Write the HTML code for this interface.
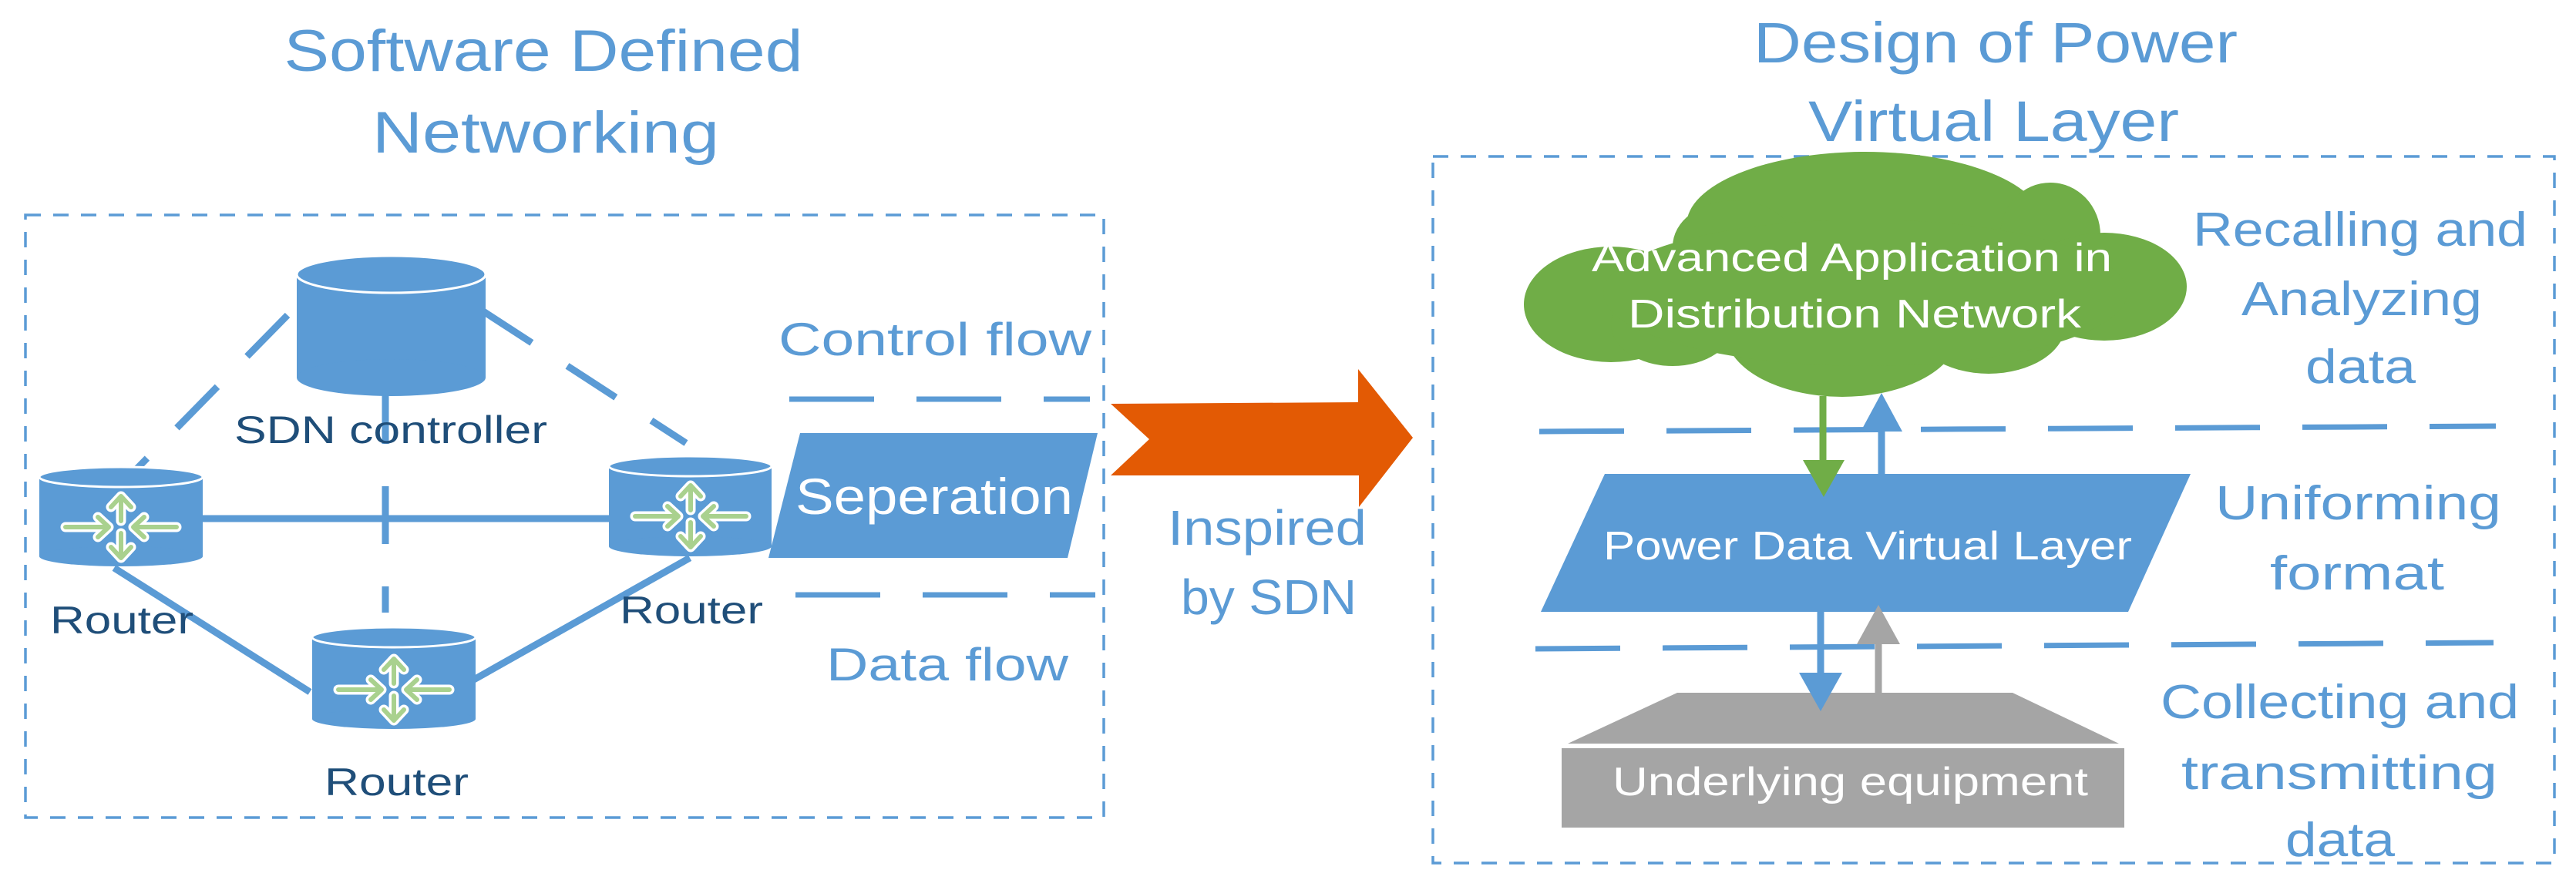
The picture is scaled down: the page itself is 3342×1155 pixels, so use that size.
<!DOCTYPE html>
<html><head><meta charset="utf-8"><style>
html,body{margin:0;padding:0;background:#fff;}
svg{display:block;}
text{font-family:"Liberation Sans",sans-serif;}
</style></head><body>
<svg width="3342" height="1155" viewBox="0 0 3342 1155" xmlns="http://www.w3.org/2000/svg">
<defs>
<g id="ico">
  <g fill="none" stroke="#fff" stroke-width="13" stroke-linecap="round" stroke-linejoin="round">
    <path d="M0,-8 V-38 M-13,-26 L0,-40 L13,-26"/>
    <path d="M0,8 V38 M-13,26 L0,40 L13,26"/>
    <path d="M-72,0 H-18 M-30,-13 L-16,0 L-30,13"/>
    <path d="M72,0 H18 M30,-13 L16,0 L30,13"/>
  </g>
  <g fill="none" stroke="#a9d18e" stroke-width="6" stroke-linecap="round" stroke-linejoin="round">
    <path d="M0,-8 V-38 M-13,-26 L0,-40 L13,-26"/>
    <path d="M0,8 V38 M-13,26 L0,40 L13,26"/>
    <path d="M-72,0 H-18 M-30,-13 L-16,0 L-30,13"/>
    <path d="M72,0 H18 M30,-13 L16,0 L30,13"/>
  </g>
</g>
</defs>

<!-- LEFT -->
<text x="705" y="92" font-size="76" fill="#5b9bd5" text-anchor="middle" textLength="673" lengthAdjust="spacingAndGlyphs">Software Defined</text>
<text x="708" y="198" font-size="76" fill="#5b9bd5" text-anchor="middle" textLength="450" lengthAdjust="spacingAndGlyphs">Networking</text>
<rect x="33" y="279" width="1399" height="782" fill="none" stroke="#5b9bd5" stroke-width="3.5" stroke-dasharray="20 16"/>

<!-- connectors -->
<g stroke="#5b9bd5" stroke-width="9" fill="none">
  <line x1="373" y1="409" x2="165" y2="621" stroke-dasharray="75 55"/>
  <line x1="627" y1="404" x2="890" y2="575" stroke-dasharray="75 55"/>
  <line x1="500" y1="501" x2="500" y2="795" stroke-dasharray="75 55"/>
  <line x1="263" y1="673" x2="800" y2="673"/>
  <line x1="148" y1="737" x2="402" y2="898"/>
  <line x1="895" y1="724" x2="613" y2="883"/>
</g>

<!-- SDN controller cylinder -->
<g fill="#5b9bd5">
  <rect x="385" y="356" width="245" height="134"/>
  <ellipse cx="507.5" cy="490" rx="122.5" ry="24"/>
  <ellipse cx="507.5" cy="356" rx="122.5" ry="24" stroke="#fff" stroke-width="3"/>
</g>
<!-- routers -->
<g fill="#5b9bd5">
  <rect x="51" y="619" width="212" height="103"/>
  <ellipse cx="157" cy="722" rx="106" ry="13"/>
  <ellipse cx="157" cy="619" rx="106" ry="13" stroke="#fff" stroke-width="3"/>
  <rect x="790" y="605" width="211" height="104"/>
  <ellipse cx="895.5" cy="709" rx="105.5" ry="13"/>
  <ellipse cx="895.5" cy="605" rx="105.5" ry="13" stroke="#fff" stroke-width="3"/>
  <rect x="405" y="827" width="212" height="106"/>
  <ellipse cx="511" cy="933" rx="106" ry="13"/>
  <ellipse cx="511" cy="827" rx="106" ry="13" stroke="#fff" stroke-width="3"/>
</g>
<use href="#ico" x="157" y="684"/>
<use href="#ico" x="896" y="670"/>
<use href="#ico" x="511" y="895"/>

<g fill="#1f4e79" font-size="50">
  <text x="304" y="575" textLength="406" lengthAdjust="spacingAndGlyphs">SDN controller</text>
  <text x="65" y="822" textLength="186" lengthAdjust="spacingAndGlyphs">Router</text>
  <text x="804" y="809" textLength="186" lengthAdjust="spacingAndGlyphs">Router</text>
  <text x="421" y="1032" textLength="187" lengthAdjust="spacingAndGlyphs">Router</text>
</g>

<text x="1010" y="461" font-size="60" fill="#5b9bd5" textLength="406" lengthAdjust="spacingAndGlyphs">Control flow</text>
<text x="1072" y="883" font-size="60" fill="#5b9bd5" textLength="314" lengthAdjust="spacingAndGlyphs">Data flow</text>
<line x1="1024" y1="518" x2="1414" y2="518" stroke="#5b9bd5" stroke-width="7" stroke-dasharray="110 55"/>
<line x1="1032" y1="772" x2="1421" y2="772" stroke="#5b9bd5" stroke-width="7" stroke-dasharray="110 55"/>
<polygon points="1038,562 1424,562 1385,724 997,724" fill="#5b9bd5"/>
<text x="1032" y="667" font-size="66" fill="#fff" textLength="360" lengthAdjust="spacingAndGlyphs">Seperation</text>

<!-- middle arrow -->
<polygon points="1441,524 1762,522 1762,479 1833,568 1763,658 1763,617 1441,617 1491,570" fill="#e35a04"/>
<text x="1515" y="707" font-size="64" fill="#5b9bd5" textLength="258" lengthAdjust="spacingAndGlyphs">Inspired</text>
<text x="1532" y="797" font-size="64" fill="#5b9bd5" textLength="228" lengthAdjust="spacingAndGlyphs">by SDN</text>

<!-- RIGHT -->
<text x="2275" y="81" font-size="74" fill="#5b9bd5" textLength="628" lengthAdjust="spacingAndGlyphs">Design of Power</text>
<text x="2346" y="183" font-size="74" fill="#5b9bd5" textLength="481" lengthAdjust="spacingAndGlyphs">Virtual Layer</text>
<rect x="1859" y="203" width="1455" height="917" fill="none" stroke="#5b9bd5" stroke-width="3.5" stroke-dasharray="20 16"/>

<!-- cloud -->
<g fill="#70ad47">
  <ellipse cx="2090" cy="395" rx="113" ry="75"/>
  <ellipse cx="2420" cy="292" rx="232" ry="95"/>
  <ellipse cx="2250" cy="320" rx="80" ry="60"/>
  <ellipse cx="2660" cy="305" rx="65" ry="68"/>
  <ellipse cx="2730" cy="372" rx="107" ry="70"/>
  <ellipse cx="2390" cy="430" rx="152" ry="85"/>
  <ellipse cx="2580" cy="420" rx="100" ry="65"/>
  <ellipse cx="2170" cy="420" rx="80" ry="55"/>
  <ellipse cx="2420" cy="380" rx="340" ry="95"/>
</g>
<text x="2065" y="352" font-size="52" fill="#fff" textLength="675" lengthAdjust="spacingAndGlyphs">Advanced Application in</text>
<text x="2112" y="425" font-size="52" fill="#fff" textLength="588" lengthAdjust="spacingAndGlyphs">Distribution Network</text>

<g fill="#5b9bd5" font-size="62">
  <text x="2845" y="319" textLength="434" lengthAdjust="spacingAndGlyphs">Recalling and</text>
  <text x="2908" y="409" textLength="312" lengthAdjust="spacingAndGlyphs">Analyzing</text>
  <text x="2991" y="497" textLength="143" lengthAdjust="spacingAndGlyphs">data</text>
  <text x="2874" y="674" textLength="371" lengthAdjust="spacingAndGlyphs">Uniforming</text>
  <text x="2945" y="765" textLength="226" lengthAdjust="spacingAndGlyphs">format</text>
  <text x="2803" y="932" textLength="465" lengthAdjust="spacingAndGlyphs">Collecting and</text>
  <text x="2830" y="1024" textLength="410" lengthAdjust="spacingAndGlyphs">transmitting</text>
  <text x="2965" y="1111" textLength="142" lengthAdjust="spacingAndGlyphs">data</text>
</g>

<line x1="1997" y1="560" x2="3238" y2="553" stroke="#5b9bd5" stroke-width="7" stroke-dasharray="110 55"/>
<line x1="1992" y1="842" x2="3235" y2="834" stroke="#5b9bd5" stroke-width="7" stroke-dasharray="110 55"/>

<polygon points="2082,615 2842,615 2761,794 1999,794" fill="#5b9bd5"/>
<text x="2080" y="726" font-size="52" fill="#fff" textLength="686" lengthAdjust="spacingAndGlyphs">Power Data Virtual Layer</text>

<!-- equipment -->
<polygon points="2176,899 2611,899 2749,965 2034,965" fill="#a5a5a5"/>
<rect x="2026" y="971" width="730" height="103" fill="#a5a5a5"/>
<text x="2092" y="1032" font-size="52" fill="#fff" textLength="617" lengthAdjust="spacingAndGlyphs">Underlying equipment</text>

<!-- arrows -->
<line x1="2365" y1="514" x2="2365" y2="600" stroke="#70ad47" stroke-width="9"/>
<polygon points="2339,597 2393,597 2366,645" fill="#70ad47"/>
<line x1="2441" y1="660" x2="2441" y2="555" stroke="#5b9bd5" stroke-width="9"/>
<polygon points="2414,560 2468,560 2441,510" fill="#5b9bd5"/>
<line x1="2362" y1="778" x2="2362" y2="876" stroke="#5b9bd5" stroke-width="9"/>
<polygon points="2334,873 2390,873 2362,923" fill="#5b9bd5"/>
<line x1="2437" y1="899" x2="2437" y2="830" stroke="#a5a5a5" stroke-width="9"/>
<polygon points="2409,836 2465,836 2437,785" fill="#a5a5a5"/>
</svg>
</body></html>
